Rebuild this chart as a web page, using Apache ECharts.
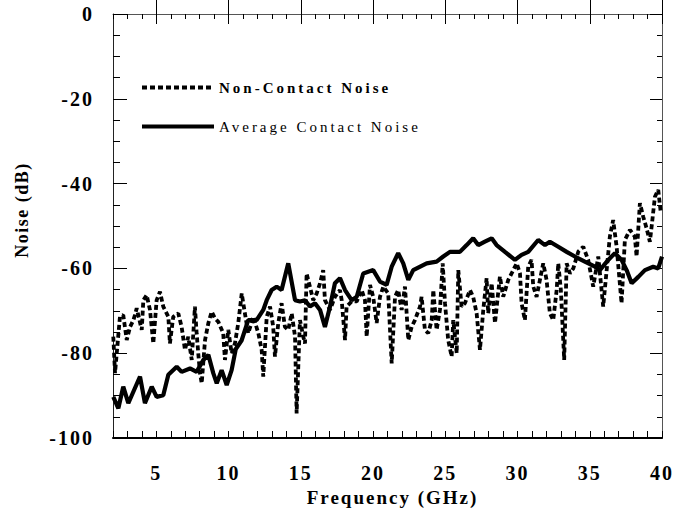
<!DOCTYPE html>
<html>
<head>
<meta charset="utf-8">
<script src="https://cdn.jsdelivr.net/npm/echarts@6/dist/echarts.min.js"></script>
<style>
  html, body { margin: 0; padding: 0; background: #fff; }
  #chart { width: 673px; height: 516px; }
  /* spaced-out lettering, keyed on font size */
  #chart text[style*="20px"] { letter-spacing: 2px; }
  #chart text[style*="15px"] { letter-spacing: 3px; }
  #chart text[style*="19px"] { letter-spacing: 2px; }
  #chart text[style*="18px"] { letter-spacing: 1.5px; }
</style>
</head>
<body>
<div id="chart"></div>
<script>
// Average contact noise (solid)
const contactFreq = [2.02, 2.37, 2.71, 3.06, 3.87, 4.21, 4.68, 5.02, 5.48, 5.83, 6.41, 6.75, 7.33, 7.79, 8.25, 8.60, 8.94, 9.18, 9.52, 9.87, 10.21, 10.50, 10.90, 11.36, 11.94, 12.40, 12.64, 12.98, 13.33, 13.67, 14.13, 14.60, 14.94, 15.29, 15.63, 15.98, 16.33, 16.67, 17.02, 17.36, 17.71, 18.06, 18.52, 18.87, 19.32, 20.01, 20.48, 20.94, 21.29, 21.74, 22.09, 22.44, 22.78, 23.71, 24.40, 24.86, 25.32, 26.01, 26.48, 26.93, 27.28, 27.74, 28.21, 28.55, 29.13, 29.82, 30.28, 30.74, 31.43, 31.90, 32.24, 32.82, 33.40, 33.97, 34.66, 35.36, 35.70, 36.28, 36.74, 37.20, 37.55, 37.90, 38.36, 38.82, 39.39, 39.74, 40.0];
const contactNoise = [-90.3, -93, -87.9, -91.8, -85.5, -91.8, -87.9, -90.3, -89.9, -85.1, -83.2, -84.4, -83.6, -84.4, -81.6, -80.4, -84.7, -87.1, -84, -87.5, -84, -79, -77, -72.2, -72.2, -69.8, -67.5, -65.1, -64.3, -65.1, -58.8, -67.5, -67.8, -67.5, -69, -68.2, -69.8, -73.8, -69, -63.5, -62.3, -65.1, -67.5, -66.7, -61.2, -60.4, -63.1, -63.9, -59.6, -56.4, -58.8, -62.7, -60.4, -58.8, -58.4, -57.2, -56.1, -56.1, -54.5, -52.9, -54.5, -53.7, -52.9, -54.5, -56.1, -58, -56.8, -56.1, -53.3, -54.5, -53.7, -54.9, -56.1, -57.2, -58.4, -59.6, -60.4, -58, -56.4, -58, -60.4, -63.5, -62, -60.4, -59.6, -60, -57.2];

// Non-contact noise (dashed)
const nonContactFreq = [2.02, 2.14, 2.48, 2.71, 2.95, 3.18, 3.41, 3.52, 3.64, 3.99, 4.10, 4.33, 4.56, 4.79, 5.02, 5.25, 5.48, 5.83, 5.94, 6.17, 6.52, 6.75, 6.98, 7.21, 7.45, 7.67, 7.79, 7.90, 8.02, 8.14, 8.37, 8.60, 8.83, 9.06, 9.29, 9.63, 9.75, 9.98, 10.21, 10.44, 10.67, 10.91, 11.13, 11.36, 11.71, 12.06, 12.29, 12.40, 12.64, 12.87, 13.09, 13.21, 13.44, 13.67, 13.90, 14.13, 14.37, 14.60, 14.71, 14.94, 15.17, 15.29, 15.40, 15.63, 15.86, 16.10, 16.33, 16.55, 16.67, 17.02, 17.36, 17.71, 17.83, 18.06, 18.17, 18.52, 18.87, 19.21, 19.44, 19.56, 19.79, 20.01, 20.25, 20.48, 20.71, 21.05, 21.29, 21.52, 21.74, 21.98, 22.21, 22.44, 22.67, 22.90, 23.25, 23.36, 23.59, 23.82, 24.06, 24.17, 24.40, 24.63, 24.82, 24.98, 25.20, 25.44, 25.55, 25.79, 25.90, 26.13, 26.36, 26.71, 26.93, 27.17, 27.40, 27.63, 27.86, 27.97, 28.21, 28.44, 28.78, 29.01, 29.36, 29.59, 29.94, 30.17, 30.28, 30.51, 30.74, 30.97, 31.09, 31.32, 31.55, 31.78, 32.01, 32.24, 32.47, 32.71, 32.82, 33.00, 33.23, 33.40, 33.63, 33.86, 34.21, 34.55, 34.89, 35.24, 35.59, 35.93, 36.17, 36.39, 36.62, 36.86, 37.20, 37.43, 37.78, 38.12, 38.24, 38.47, 38.70, 38.93, 39.16, 39.28, 39.51, 39.74, 39.92];
const nonContactNoise = [-76.1, -84.7, -71.4, -71, -76.9, -73.8, -72.2, -71, -69.4, -74.5, -67.5, -66.3, -69.8, -77.7, -67.5, -65.5, -69, -71.4, -77.7, -71.4, -70.6, -73.8, -79.2, -76.1, -81.6, -69, -75.3, -80, -84.7, -87.1, -76.9, -72.9, -70.2, -71.8, -72.6, -75.3, -81.6, -74.5, -80, -77.7, -72.9, -65.9, -70.6, -75.3, -71.4, -75.3, -79.2, -85.5, -71.4, -69, -73.8, -80.8, -72.9, -68.2, -73.8, -74.5, -70.6, -76.1, -94.2, -72.2, -76.1, -77.7, -61.2, -64.3, -67.5, -65.9, -63.5, -60.4, -67.5, -69.8, -66.7, -65.1, -67.5, -76.9, -69, -67.8, -67.8, -65.1, -67.5, -76.1, -63.9, -66.7, -72.9, -66.7, -64.3, -65.9, -82.4, -66.7, -65.1, -69.8, -64.3, -76.9, -73.8, -72.2, -69, -66.7, -74.5, -75.3, -72.2, -65.1, -74.5, -69.8, -58.8, -68.2, -76.9, -80.8, -72.2, -80, -60.4, -69, -68.2, -65.1, -66.7, -70.6, -79.2, -69.8, -62.3, -70.6, -63.5, -72.9, -61.9, -66.7, -62.7, -61.2, -58.8, -61.2, -68.2, -72.2, -59.6, -58, -64.3, -66.7, -62.7, -58.8, -62.7, -70.6, -72.2, -65.1, -58.8, -65.1, -81.6, -58.8, -61.2, -60, -56, -54.9, -58, -64.3, -57.2, -69, -60.4, -52.5, -48.6, -54.9, -68.2, -53.3, -50.9, -52.5, -57.2, -44.6, -47.8, -50.5, -53.7, -50.2, -43.1, -41.5, -47];

// Tick positions
const xMajorTicks = [5, 10, 15, 20, 25, 30, 35, 40];
const xMinorTicks = [];
for (let f = 2; f <= 40; f++) xMinorTicks.push(f);
const yTickLabels = [0, -20, -40, -60, -80, -100];

const pairs = (xs, ys) => xs.map((x, i) => [x, ys[i]]);

const serif = '"Liberation Serif", "Times New Roman", serif';
const labelFont = { fontFamily: serif, fontWeight: 'bold', fontSize: 20, color: '#000' };

const chart = echarts.init(document.getElementById('chart'), null, { renderer: 'svg' });

function xAxisDef(pos, ticks, len, withLabels, lineStyle) {
  return {
    type: 'value', position: pos, min: 2, max: 40,
    axisLine: lineStyle ? { show: true, onZero: false, lineStyle } : { show: false },
    axisTick: { show: true, inside: true, length: len, customValues: ticks, lineStyle: { color: '#000', width: 1 } },
    axisLabel: withLabels
      ? Object.assign({ show: true, margin: 25, customValues: xMajorTicks }, labelFont)
      : { show: false },
    splitLine: { show: false }
  };
}

const option = {
  animation: false,
  backgroundColor: '#fff',
  grid: { left: 113, right: 11, top: 14, bottom: 78, containLabel: false, outerBoundsMode: 'none' },
  legend: {
    orient: 'vertical', left: 135, top: 75,
    itemWidth: 72, itemHeight: 14, itemGap: 24,
    itemStyle: { opacity: 0, borderWidth: 0 },
    lineStyle: { width: 4 },
    data: [
      { name: 'Non-Contact Noise', textStyle: { fontFamily: serif, fontWeight: 'bold', fontSize: 15, color: '#000' } },
      { name: 'Average Contact Noise', textStyle: { fontFamily: serif, fontWeight: 'normal', fontSize: 15, color: '#000' } }
    ]
  },
  xAxis: [
    Object.assign(xAxisDef('bottom', xMinorTicks, 7, true, { color: '#000', width: 2 }), {
      name: 'Frequency (GHz)', nameLocation: 'middle', nameGap: 50,
      nameTextStyle: { fontFamily: serif, fontWeight: 'bold', fontSize: 19, color: '#000', padding: [0, 0, 0, 10] }
    }),
    xAxisDef('bottom', xMajorTicks, 14, false, null),
    xAxisDef('top', xMinorTicks, 5, false, { color: '#555', width: 1 }),
    xAxisDef('top', xMajorTicks, 10, false, null)
  ],
  yAxis: [
    {
      type: 'value', position: 'left', min: -100, max: 0, interval: 20,
      name: 'Noise (dB)', nameLocation: 'middle', nameGap: 82, nameRotate: 90,
      nameTextStyle: { fontFamily: serif, fontWeight: 'bold', fontSize: 18, color: '#000', padding: [0, 0, 0, 32] },
      axisLine: { show: true, onZero: false, lineStyle: { color: '#222', width: 1 } },
      axisTick: { show: true, inside: true, length: 14, lineStyle: { color: '#000' } },
      minorTick: { show: true, splitNumber: 4, length: 7, lineStyle: { color: '#000' } },
      axisLabel: Object.assign({ margin: 19, customValues: yTickLabels }, labelFont),
      splitLine: { show: false }
    },
    {
      type: 'value', position: 'right', min: -100, max: 0, interval: 20,
      axisLine: { show: true, onZero: false, lineStyle: { color: '#555', width: 1 } },
      axisTick: { show: true, inside: true, length: 12, lineStyle: { color: '#000' } },
      minorTick: { show: true, splitNumber: 4, length: 5, lineStyle: { color: '#000' } },
      axisLabel: { show: false },
      splitLine: { show: false }
    }
  ],
  series: [
    {
      name: 'Non-Contact Noise', type: 'line', xAxisIndex: 0, yAxisIndex: 0,
      data: pairs(nonContactFreq, nonContactNoise),
      showSymbol: false, symbol: 'none',
      lineStyle: { color: '#000', width: 3.8, type: [5, 3] },
      itemStyle: { color: '#000' },
      z: 3
    },
    {
      name: 'Average Contact Noise', type: 'line', xAxisIndex: 0, yAxisIndex: 0,
      data: pairs(contactFreq, contactNoise),
      showSymbol: false, symbol: 'none',
      lineStyle: { color: '#000', width: 4.2, type: 'solid' },
      itemStyle: { color: '#000' },
      z: 4
    }
  ]
};
chart.setOption(option);
</script>
</body>
</html>
